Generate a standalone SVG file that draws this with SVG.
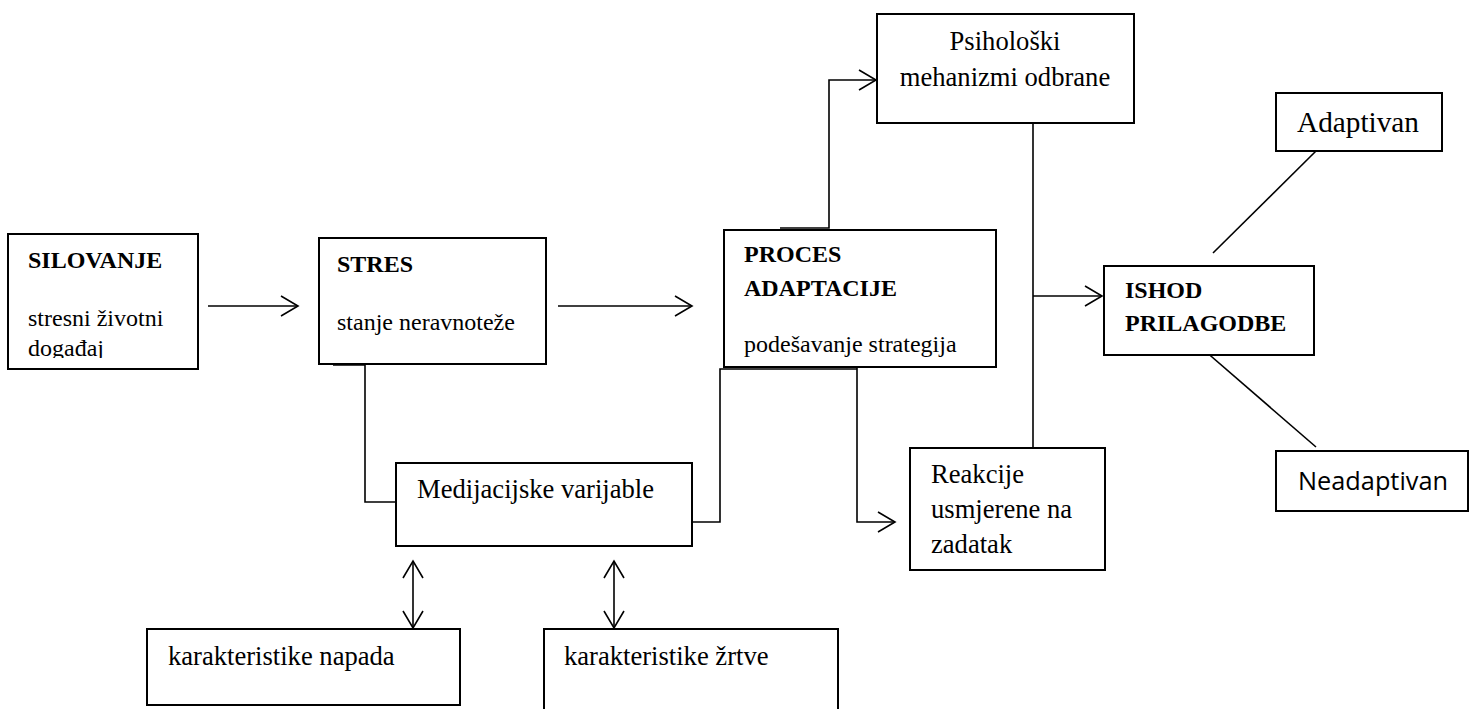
<svg xmlns="http://www.w3.org/2000/svg" width="1476" height="709" viewBox="0 0 1476 709">
<style>
.box{fill:#fff;stroke:#000;stroke-width:2}
.ln{fill:none;stroke:#000;stroke-width:1.6}
.t{font-family:"Liberation Serif","Times New Roman",serif;fill:#000}
.b{font-weight:bold;font-size:24px}
.s24{font-size:24px}
.s27{font-size:26.6px}
.s29{font-size:29.3px}
.sans{font-family:"Open Sans","Noto Sans",sans-serif;font-size:25px;fill:#000}
</style>
<defs>
<marker id="ah" viewBox="0 0 20 22" markerWidth="20" markerHeight="22" refX="18" refY="11" orient="auto-start-reverse" markerUnits="userSpaceOnUse">
<path d="M1,1 L18,11 L1,21" fill="none" stroke="#000" stroke-width="1.6"/>
</marker>
<clipPath id="clipSil"><rect x="8" y="234" width="190" height="124"/></clipPath>
</defs>
<rect width="1476" height="709" fill="#fff"/>
<g id="connectors">
<line class="ln" x1="208" y1="306" x2="298" y2="306" marker-end="url(#ah)"/>
<line class="ln" x1="558" y1="306" x2="692" y2="306" marker-end="url(#ah)"/>
<path class="ln" d="M333,365 H365 V502 H396"/>
<path class="ln" d="M692,522 H720 V369 H857"/>
<path class="ln" d="M857,367 V522 H895" marker-end="url(#ah)"/>
<path class="ln" d="M780,228 H829 V80 H876" marker-end="url(#ah)"/>
<line class="ln" x1="1033" y1="123" x2="1033" y2="448"/>
<line class="ln" x1="1033" y1="296" x2="1102" y2="296" marker-end="url(#ah)"/>
<line class="ln" x1="1213" y1="253" x2="1316" y2="151"/>
<line class="ln" x1="1197" y1="344" x2="1316" y2="447"/>
<line class="ln" x1="413" y1="561" x2="413" y2="628" marker-start="url(#ah)" marker-end="url(#ah)"/>
<line class="ln" x1="614" y1="561" x2="614" y2="628" marker-start="url(#ah)" marker-end="url(#ah)"/>
</g>
<g id="silovanje">
<rect class="box" x="8" y="234" width="190" height="135"/>
<g clip-path="url(#clipSil)">
<text class="t b" x="28" y="268">SILOVANJE</text>
<text class="t s24" x="28" y="326">stresni životni</text>
<text class="t s24" x="28" y="356">događaj</text>
</g>
</g>
<g id="stres">
<rect class="box" x="319" y="238" width="227" height="126"/>
<text class="t b" x="337" y="272">STRES</text>
<text class="t s24" x="337" y="330">stanje neravnoteže</text>
</g>
<g id="proces">
<rect class="box" x="724" y="230" width="272" height="137"/>
<text class="t b" x="744" y="262">PROCES</text>
<text class="t b" x="744" y="296">ADAPTACIJE</text>
<text class="t s24" x="744" y="352">podešavanje strategija</text>
</g>
<g id="psiholoski">
<rect class="box" x="877" y="14" width="257" height="109"/>
<text class="t s27" x="1005" y="50" text-anchor="middle">Psihološki</text>
<text class="t s27" x="1005" y="86" text-anchor="middle">mehanizmi odbrane</text>
</g>
<g id="ishod">
<rect class="box" x="1104" y="266" width="210" height="89"/>
<text class="t b" x="1125" y="298">ISHOD</text>
<text class="t b" x="1125" y="331">PRILAGODBE</text>
</g>
<g id="adaptivan">
<rect class="box" x="1276" y="93" width="166" height="58"/>
<text class="t s29" x="1358" y="132" text-anchor="middle">Adaptivan</text>
</g>
<g id="neadaptivan">
<rect class="box" x="1276" y="451" width="192" height="60"/>
<text class="sans" x="1373" y="490" text-anchor="middle" textLength="150" lengthAdjust="spacingAndGlyphs">Neadaptivan</text>
</g>
<g id="medijacijske">
<rect class="box" x="396" y="463" width="296" height="83"/>
<text class="t s27" x="417" y="498">Medijacijske varijable</text>
</g>
<g id="reakcije">
<rect class="box" x="910" y="448" width="195" height="122"/>
<text class="t s27" x="931" y="483">Reakcije</text>
<text class="t s27" x="931" y="518">usmjerene na</text>
<text class="t s27" x="931" y="553">zadatak</text>
</g>
<g id="napada">
<rect class="box" x="147" y="629" width="313" height="76"/>
<text class="t s27" x="168" y="665">karakteristike napada</text>
</g>
<g id="zrtve">
<rect class="box" x="544" y="629" width="294" height="90"/>
<text class="t s27" x="564" y="665">karakteristike žrtve</text>
</g>
</svg>
